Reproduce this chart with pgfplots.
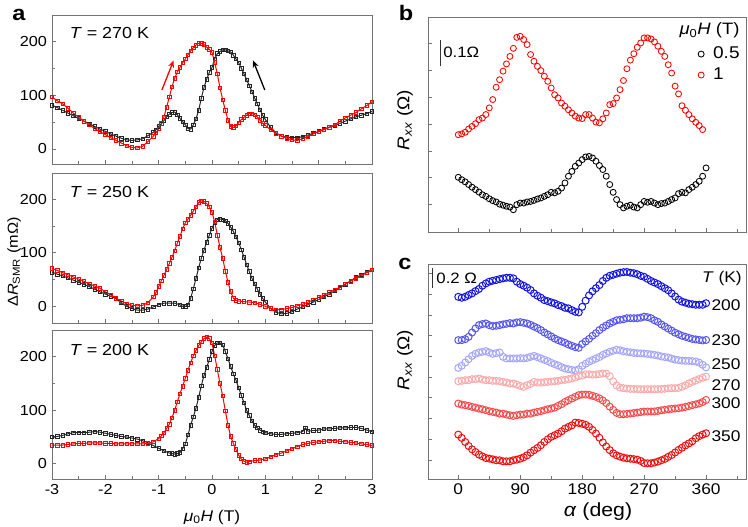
\documentclass[border=0pt]{standalone}
\usepackage{fontspec}
\setmainfont{Liberation Sans}[FakeStretch=1.12]
\usepackage{pgfplots}
\pgfplotsset{compat=1.18}
\usetikzlibrary{arrows.meta}
\definecolor{axgray}{RGB}{115,115,115}
\definecolor{cA}{RGB}{20,20,225}
\definecolor{cB}{RGB}{85,85,240}
\definecolor{cC}{RGB}{165,165,250}
\definecolor{cD}{RGB}{250,170,170}
\definecolor{cE}{RGB}{245,75,75}
\definecolor{cF}{RGB}{240,15,15}
\pgfplotsset{
  panel/.style={scale only axis, anchor=south west,
    axis line style={axgray, line width=0.9pt},
    tick style={axgray, line width=0.8pt}, tick pos=left,
    major tick length=3.5pt, minor tick length=2.5pt,
    /pgf/number format/assume math mode=true,
    tick label style={font=\fontsize{14.5}{16}\selectfont}},
  pa/.style={panel, width=320pt, height=149pt, xmin=-3, xmax=3,
    xtick={-3,-2,-1,0,1,2,3}, minor xtick={-2.5,-1.5,-0.5,0.5,1.5,2.5},
    ytick={0,100,200}, minor ytick={50,150}},
  sqk/.style={black!85, line width=1.0pt, mark=square, mark size=1.8pt, mark options={line width=0.6pt, solid}},
  sqr/.style={red, line width=1.0pt, mark=square, mark size=1.8pt, mark options={line width=0.6pt, solid}},
  pc/.style={panel, width=318pt, height=215pt, xmin=-44, xmax=418,
    xtick={0,90,180,270,360}, minor xtick={45,135,225,315,405}},
}
\begin{document}
\fontsize{14.5}{16}\selectfont
\begin{tikzpicture}
\path[use as bounding box] (0,0) rectangle (748pt,527pt);
% ---------------- panel a, 270 K
\begin{axis}[pa, at={(52pt,363pt)}, ymin=-28, ymax=250, xticklabels={}]
\addplot[sqk] coordinates {(-3.0,82) (-2.9,77) (-2.8,72) (-2.7,67) (-2.6,62) (-2.5,57) (-2.4,52) (-2.3,47) (-2.2,42) (-2.1,37) (-2.0,33) (-1.9,28) (-1.8,24) (-1.7,20) (-1.6,17) (-1.5,16) (-1.4,17) (-1.3,19) (-1.2,25) (-1.1,31) (-1.05,36) (-1.0,42) (-0.95,47) (-0.9,53) (-0.85,60) (-0.8,65) (-0.75,68) (-0.7,69) (-0.65,64) (-0.6,57) (-0.55,51) (-0.5,45) (-0.45,38) (-0.4,37) (-0.35,45) (-0.3,56) (-0.25,72) (-0.2,95) (-0.15,115) (-0.1,130) (-0.05,143) (0.0,152) (0.05,168) (0.1,178) (0.15,182) (0.2,185) (0.25,185) (0.3,183) (0.35,181) (0.4,175) (0.45,168) (0.5,161) (0.55,151) (0.6,140) (0.65,129) (0.7,118) (0.75,107) (0.8,95) (0.85,84) (0.9,73) (0.95,63) (1.0,55) (1.1,40) (1.2,30) (1.3,24) (1.4,22) (1.5,21) (1.6,21) (1.7,23) (1.8,26) (1.9,29) (2.0,33) (2.1,37) (2.2,41) (2.3,44) (2.4,48) (2.5,52) (2.6,56) (2.7,60) (2.8,63) (2.9,66) (3.0,70)};
\addplot[sqr] coordinates {(-3.0,97) (-2.9,90) (-2.8,84) (-2.7,76) (-2.6,67) (-2.5,59) (-2.4,52) (-2.3,45) (-2.2,38) (-2.1,32) (-2.0,27) (-1.9,21) (-1.8,16) (-1.7,11) (-1.6,6) (-1.5,3) (-1.4,2) (-1.3,5) (-1.2,14) (-1.1,24) (-1.05,30) (-1.0,38) (-0.95,48) (-0.9,60) (-0.85,78) (-0.8,97) (-0.75,116) (-0.7,132) (-0.65,144) (-0.6,152) (-0.55,161) (-0.5,168) (-0.45,176) (-0.4,183) (-0.35,189) (-0.3,194) (-0.25,197) (-0.2,197) (-0.15,195) (-0.1,190) (-0.05,186) (0.0,180) (0.05,162) (0.1,140) (0.15,114) (0.2,92) (0.25,72) (0.3,54) (0.35,42) (0.4,40) (0.45,43) (0.5,49) (0.55,55) (0.6,59) (0.65,63) (0.7,66) (0.75,66) (0.8,64) (0.85,60) (0.9,54) (0.95,48) (1.0,44) (1.1,36) (1.2,29) (1.3,24) (1.4,20) (1.5,17) (1.6,16) (1.7,19) (1.8,23) (1.9,28) (2.0,32) (2.1,36) (2.2,40) (2.3,45) (2.4,52) (2.5,58) (2.6,63) (2.7,68) (2.8,75) (2.9,81) (3.0,88)};
\draw[red, line width=1.3pt, -{Stealth[length=7pt,width=6pt]}] (axis cs:-0.94,110) -- (axis cs:-0.72,165);
\draw[black, line width=1.3pt, -{Stealth[length=7pt,width=6pt]}] (axis cs:0.99,110) -- (axis cs:0.77,165);
\node[anchor=west, font=\fontsize{16}{18}\selectfont] at (rel axis cs:0.04,0.876) {\textit{T} = 270 K};
\end{axis}
% ---------------- panel a, 250 K
\begin{axis}[pa, at={(52pt,204pt)}, height=150pt, ymin=-31, ymax=249, xticklabels={}]
\addplot[sqk] coordinates {(-3.0,64) (-2.9,60) (-2.8,57) (-2.7,53) (-2.6,49) (-2.5,45) (-2.4,41) (-2.3,37) (-2.2,32) (-2.1,27) (-2.0,23) (-1.9,19) (-1.8,14) (-1.7,7) (-1.6,0) (-1.5,-4) (-1.4,-7) (-1.3,-7) (-1.2,-5) (-1.1,-1) (-1.0,3) (-0.9,6) (-0.8,6) (-0.7,6) (-0.6,3) (-0.55,0) (-0.5,0) (-0.45,3) (-0.4,15) (-0.35,33) (-0.3,52) (-0.25,72) (-0.2,90) (-0.15,105) (-0.1,120) (-0.05,133) (0.0,146) (0.05,157) (0.1,162) (0.15,163) (0.2,162) (0.25,160) (0.3,155) (0.35,148) (0.4,140) (0.45,130) (0.5,119) (0.55,106) (0.6,92) (0.65,78) (0.7,65) (0.75,52) (0.8,42) (0.85,32) (0.9,23) (0.95,15) (1.0,8) (1.1,-4) (1.2,-11) (1.3,-14) (1.4,-13) (1.5,-10) (1.6,-5) (1.7,-1) (1.8,3) (1.9,8) (2.0,13) (2.1,18) (2.2,23) (2.3,29) (2.4,35) (2.5,41) (2.6,48) (2.7,54) (2.8,59) (2.9,64) (3.0,68)};
\addplot[sqr] coordinates {(-3.0,71) (-2.9,67) (-2.8,63) (-2.7,59) (-2.6,55) (-2.5,51) (-2.4,47) (-2.3,42) (-2.2,38) (-2.1,34) (-2.0,27) (-1.9,22) (-1.8,15) (-1.7,10) (-1.6,5) (-1.5,2) (-1.4,1) (-1.3,2) (-1.2,7) (-1.1,18) (-1.05,26) (-1.0,37) (-0.95,48) (-0.9,58) (-0.85,69) (-0.8,80) (-0.75,92) (-0.7,104) (-0.65,118) (-0.6,131) (-0.55,145) (-0.5,156) (-0.45,163) (-0.4,170) (-0.35,178) (-0.3,186) (-0.25,194) (-0.2,197) (-0.15,196) (-0.1,192) (-0.05,186) (0.0,176) (0.05,158) (0.1,133) (0.15,110) (0.2,90) (0.25,66) (0.3,45) (0.35,28) (0.4,15) (0.45,11) (0.5,10) (0.6,9) (0.7,8) (0.8,7) (0.9,4) (1.0,0) (1.1,-4) (1.2,-6) (1.3,-6) (1.4,-4) (1.5,-2) (1.6,1) (1.7,4) (1.8,8) (1.9,12) (2.0,17) (2.1,21) (2.2,26) (2.3,31) (2.4,36) (2.5,42) (2.6,47) (2.7,52) (2.8,57) (2.9,63) (3.0,68)};
\node[anchor=west, font=\fontsize{16}{18}\selectfont] at (rel axis cs:0.04,0.875) {\textit{T} = 250 K};
\end{axis}
% ---------------- panel a, 200 K
\begin{axis}[pa, at={(52pt,48pt)}, ymin=-28.5, ymax=250]
\addplot[sqk] coordinates {(-3.0,50) (-2.9,51) (-2.8,53) (-2.7,56) (-2.6,58) (-2.5,58) (-2.4,58) (-2.3,59) (-2.2,60) (-2.1,59) (-2.0,57) (-1.9,55) (-1.8,53) (-1.7,51) (-1.6,50) (-1.5,48) (-1.4,46) (-1.3,43) (-1.2,39) (-1.1,34) (-1.0,29) (-0.9,24) (-0.8,20) (-0.75,19) (-0.7,18) (-0.65,19) (-0.6,21) (-0.55,28) (-0.5,37) (-0.45,54) (-0.4,72) (-0.35,88) (-0.3,104) (-0.25,124) (-0.2,146) (-0.15,165) (-0.1,180) (-0.05,195) (0.0,210) (0.05,221) (0.1,226) (0.15,226) (0.2,222) (0.25,210) (0.3,196) (0.35,182) (0.4,168) (0.45,156) (0.5,142) (0.55,128) (0.6,114) (0.65,100) (0.7,90) (0.75,80) (0.8,72) (0.85,67) (0.9,63) (0.95,60) (1.0,58) (1.1,56) (1.2,55) (1.3,55) (1.4,56) (1.5,57) (1.6,58) (1.7,60) (1.75,67) (1.8,61) (1.9,62) (2.0,63) (2.1,65) (2.2,65) (2.3,66) (2.4,67) (2.5,67) (2.6,68) (2.7,68) (2.8,66) (2.9,63) (3.0,60)};
\addplot[sqr] coordinates {(-3.0,35) (-2.9,35) (-2.8,35) (-2.7,36) (-2.6,37) (-2.5,38) (-2.4,38) (-2.3,39) (-2.2,39) (-2.1,39) (-2.0,38) (-1.9,38) (-1.8,37) (-1.7,37) (-1.6,37) (-1.5,37) (-1.4,37) (-1.3,37) (-1.2,38) (-1.1,41) (-1.0,47) (-0.95,52) (-0.9,58) (-0.85,66) (-0.8,74) (-0.75,86) (-0.7,100) (-0.65,116) (-0.6,131) (-0.55,145) (-0.5,160) (-0.45,175) (-0.4,189) (-0.35,202) (-0.3,212) (-0.25,221) (-0.2,228) (-0.15,234) (-0.1,237) (-0.05,234) (0.0,226) (0.05,202) (0.1,176) (0.15,150) (0.2,127) (0.25,99) (0.3,72) (0.35,51) (0.4,38) (0.45,27) (0.5,16) (0.55,9) (0.6,5) (0.65,3) (0.7,4) (0.8,6) (0.9,7) (1.0,9) (1.1,13) (1.2,17) (1.3,20) (1.4,24) (1.5,28) (1.6,32) (1.7,36) (1.8,38) (1.9,40) (2.0,41) (2.1,42) (2.2,43) (2.3,43) (2.4,42) (2.5,41) (2.6,40) (2.7,39) (2.8,37) (2.9,36) (3.0,34)};
\node[anchor=west, font=\fontsize{16}{18}\selectfont] at (rel axis cs:0.04,0.866) {\textit{T} = 200 K};
\end{axis}
% ---------------- panel b
\begin{axis}[pc, at={(428pt,295pt)}, ymin=-0.102, ymax=0.700,
  xticklabels={}, ytick={0,0.1,0.2,0.3,0.4,0.5,0.6}, yticklabels={},
  legend style={draw=none, fill=none, at={(0.99,0.875)}, anchor=north east,
    font=\fontsize{17}{19}\selectfont, row sep=3pt, column sep=7pt, inner sep=1pt},
  legend cell align=left]
\addplot[only marks, mark=o, mark size=3pt, black, mark options={line width=0.85pt}] coordinates {(0,0.102) (5,0.093) (10,0.085) (15,0.075) (20,0.065) (25,0.056) (30,0.047) (35,0.037) (40,0.031) (45,0.022) (50,0.015) (55,0.010) (60,0.002) (65,-0.002) (70,-0.006) (75,-0.009) (80,-0.019) (85,0.000) (90,0.006) (95,0.006) (100,0.010) (105,0.012) (110,0.016) (115,0.021) (120,0.025) (125,0.031) (130,0.037) (135,0.046) (140,0.044) (145,0.050) (150,0.062) (155,0.081) (160,0.106) (165,0.124) (170,0.143) (175,0.155) (180,0.168) (185,0.178) (190,0.180) (195,0.174) (200,0.162) (205,0.146) (210,0.131) (215,0.106) (220,0.075) (225,0.046) (230,0.019) (235,0.000) (240,-0.012) (245,-0.006) (250,-0.002) (255,-0.009) (260,-0.012) (265,0.000) (270,0.012) (275,0.009) (280,0.012) (285,0.006) (290,0.000) (295,0.004) (300,0.006) (305,0.012) (310,0.019) (315,0.025) (320,0.041) (325,0.046) (330,0.044) (335,0.056) (340,0.065) (345,0.075) (350,0.087) (355,0.106) (360,0.137)};
\addlegendentry{0.5}
\addplot[only marks, mark=o, mark size=3pt, red, mark options={line width=0.85pt}] coordinates {(0,0.261) (5,0.264) (10,0.270) (15,0.282) (20,0.292) (25,0.302) (30,0.317) (35,0.323) (40,0.336) (45,0.361) (50,0.392) (55,0.438) (60,0.466) (65,0.498) (70,0.525) (75,0.553) (80,0.583) (85,0.624) (90,0.628) (95,0.616) (100,0.597) (105,0.560) (110,0.535) (115,0.516) (120,0.500) (125,0.479) (130,0.460) (135,0.435) (140,0.410) (145,0.398) (150,0.379) (155,0.367) (160,0.354) (165,0.342) (170,0.330) (175,0.323) (180,0.321) (185,0.336) (190,0.336) (195,0.323) (200,0.308) (205,0.305) (210,0.320) (215,0.342) (220,0.373) (225,0.377) (230,0.398) (235,0.429) (240,0.463) (245,0.507) (250,0.539) (255,0.563) (260,0.587) (265,0.603) (270,0.622) (275,0.622) (280,0.618) (285,0.607) (290,0.591) (295,0.572) (300,0.553) (305,0.522) (310,0.491) (315,0.442) (320,0.413) (325,0.369) (330,0.352) (335,0.336) (340,0.320) (345,0.307) (350,0.295) (355,0.280)};
\addlegendentry{1}
\draw[black!80, line width=0.8pt] (axis cs:-25.4,0.516) -- (axis cs:-25.4,0.616);
\node[anchor=west, inner sep=0pt, font=\fontsize{15}{17}\selectfont] at (axis cs:-22,0.567) {0.1Ω};
\node[anchor=north east, inner sep=0pt, font=\fontsize{16.5}{18}\selectfont] at (rel axis cs:0.98,0.975) {\textit{μ}\textsubscript{0}\textit{H} (T)};
\end{axis}
% ---------------- panel c
\begin{axis}[pc, at={(428pt,48pt)}, ymin=-0.184, ymax=1.894,
  tick label style={font=\fontsize{15.5}{17}\selectfont},
  ytick={0,0.2,0.4,0.6,0.8,1.0,1.2,1.4,1.6,1.8}, yticklabels={}]
\addplot[only marks, mark=o, mark size=3.5pt, cA, mark options={line width=1pt}] coordinates {(0,1.577) (5,1.568) (10,1.577) (15,1.594) (20,1.610) (25,1.632) (30,1.652) (35,1.684) (40,1.706) (45,1.723) (50,1.732) (55,1.739) (60,1.748) (65,1.755) (70,1.761) (75,1.761) (80,1.755) (85,1.723) (90,1.700) (95,1.684) (100,1.665) (105,1.642) (110,1.610) (115,1.587) (120,1.568) (125,1.545) (130,1.535) (135,1.523) (140,1.513) (145,1.497) (150,1.487) (155,1.471) (160,1.465) (165,1.448) (170,1.432) (175,1.426) (180,1.48) (185,1.54) (190,1.59) (195,1.63) (200,1.66) (205,1.69) (210,1.73) (215,1.76) (220,1.78) (225,1.79) (230,1.80) (235,1.81) (240,1.815) (245,1.817) (250,1.81) (255,1.805) (260,1.795) (265,1.78) (270,1.77) (275,1.75) (280,1.73) (285,1.715) (290,1.70) (295,1.68) (300,1.66) (305,1.64) (310,1.61) (315,1.58) (320,1.55) (325,1.53) (330,1.52) (335,1.51) (340,1.505) (345,1.50) (350,1.50) (355,1.50) (360,1.515)};
\addplot[only marks, mark=o, mark size=3.5pt, cB, mark options={line width=1pt}] coordinates {(0,1.158) (5,1.158) (10,1.168) (15,1.190) (20,1.232) (25,1.271) (30,1.303) (35,1.313) (40,1.319) (45,1.303) (50,1.294) (55,1.297) (60,1.303) (65,1.310) (70,1.316) (75,1.323) (80,1.319) (85,1.329) (90,1.332) (95,1.326) (100,1.319) (105,1.306) (110,1.290) (115,1.274) (120,1.255) (125,1.232) (130,1.213) (135,1.194) (140,1.174) (145,1.158) (150,1.145) (155,1.132) (160,1.116) (165,1.103) (170,1.090) (175,1.084) (180,1.12) (185,1.145) (190,1.17) (195,1.20) (200,1.225) (205,1.255) (210,1.28) (215,1.30) (220,1.32) (225,1.335) (230,1.35) (235,1.355) (240,1.36) (245,1.37) (250,1.37) (255,1.37) (260,1.37) (265,1.375) (270,1.385) (275,1.38) (280,1.37) (285,1.35) (290,1.335) (295,1.31) (300,1.29) (305,1.27) (310,1.25) (315,1.23) (320,1.215) (325,1.20) (330,1.19) (335,1.18) (340,1.17) (345,1.165) (350,1.16) (355,1.155) (360,1.16)};
\addplot[only marks, mark=o, mark size=3.5pt, cC, mark options={line width=1pt}] coordinates {(0,0.890) (5,0.910) (10,0.942) (15,0.974) (20,1.006) (25,1.026) (30,1.039) (35,1.045) (40,1.052) (45,1.039) (50,1.026) (55,1.032) (60,1.039) (65,0.997) (70,0.981) (75,0.981) (80,0.981) (85,0.981) (90,0.984) (95,0.981) (100,0.987) (105,0.997) (110,1.006) (115,0.994) (120,0.981) (125,0.968) (130,0.955) (135,0.939) (140,0.926) (145,0.913) (150,0.897) (155,0.884) (160,0.877) (165,0.871) (170,0.865) (175,0.877) (180,0.91) (185,0.93) (190,0.95) (195,0.965) (200,0.98) (205,0.995) (210,1.015) (215,1.03) (220,1.045) (225,1.055) (230,1.065) (235,1.06) (240,1.05) (245,1.045) (250,1.04) (255,1.035) (260,1.032) (265,1.03) (270,1.028) (275,1.025) (280,1.02) (285,1.015) (290,1.01) (295,1.0) (300,0.995) (305,0.99) (310,0.98) (315,0.97) (320,0.965) (325,0.96) (330,0.958) (335,0.958) (340,0.955) (345,0.952) (350,0.94) (355,0.92) (360,0.895)};
\addplot[only marks, mark=o, mark size=3.5pt, cD, mark options={line width=1pt}] coordinates {(0,0.761) (5,0.765) (10,0.771) (15,0.771) (20,0.781) (25,0.781) (30,0.787) (35,0.777) (40,0.771) (45,0.771) (50,0.765) (55,0.765) (60,0.761) (65,0.755) (70,0.748) (75,0.739) (80,0.739) (85,0.729) (90,0.716) (95,0.706) (100,0.723) (105,0.735) (110,0.755) (115,0.748) (120,0.748) (125,0.752) (130,0.755) (135,0.758) (140,0.761) (145,0.765) (150,0.771) (155,0.774) (160,0.781) (165,0.787) (170,0.797) (175,0.810) (180,0.815) (185,0.828) (190,0.828) (195,0.824) (200,0.826) (205,0.830) (210,0.836) (215,0.835) (220,0.81) (225,0.76) (230,0.72) (235,0.70) (240,0.694) (245,0.69) (250,0.687) (255,0.686) (260,0.685) (265,0.684) (270,0.684) (275,0.684) (280,0.684) (285,0.684) (290,0.684) (295,0.686) (300,0.688) (305,0.692) (310,0.694) (315,0.694) (320,0.696) (325,0.708) (330,0.722) (335,0.74) (340,0.755) (345,0.768) (350,0.782) (355,0.795) (360,0.806)};
\addplot[only marks, mark=o, mark size=3.5pt, cE, mark options={line width=1pt}] coordinates {(0,0.545) (5,0.535) (10,0.529) (15,0.523) (20,0.513) (25,0.506) (30,0.497) (35,0.490) (40,0.481) (45,0.471) (50,0.465) (55,0.458) (60,0.448) (65,0.448) (70,0.439) (75,0.432) (80,0.426) (85,0.432) (90,0.439) (95,0.439) (100,0.448) (105,0.448) (110,0.458) (115,0.465) (120,0.471) (125,0.481) (130,0.490) (135,0.497) (140,0.506) (145,0.523) (150,0.539) (155,0.561) (160,0.577) (165,0.594) (170,0.610) (175,0.626) (180,0.632) (185,0.632) (190,0.630) (195,0.62) (200,0.61) (205,0.595) (210,0.575) (215,0.55) (220,0.515) (225,0.484) (230,0.455) (235,0.442) (240,0.442) (245,0.445) (250,0.449) (255,0.453) (260,0.458) (265,0.463) (270,0.467) (275,0.468) (280,0.468) (285,0.469) (290,0.474) (295,0.480) (300,0.485) (305,0.490) (310,0.494) (315,0.497) (320,0.50) (325,0.506) (330,0.513) (335,0.52) (340,0.53) (345,0.537) (350,0.546) (355,0.56) (360,0.58)};
\addplot[only marks, mark=o, mark size=3.5pt, cF, mark options={line width=1pt}] coordinates {(0,0.245) (5,0.213) (10,0.174) (15,0.135) (20,0.103) (25,0.077) (30,0.052) (35,0.035) (40,0.019) (45,0.013) (50,0.006) (55,-0.003) (60,-0.003) (65,-0.013) (70,-0.013) (75,-0.013) (80,-0.003) (85,0.003) (90,0.013) (95,0.026) (100,0.045) (105,0.071) (110,0.094) (115,0.116) (120,0.142) (125,0.174) (130,0.200) (135,0.223) (140,0.239) (145,0.255) (150,0.277) (155,0.303) (160,0.319) (165,0.335) (170,0.361) (175,0.358) (180,0.35) (185,0.34) (190,0.32) (195,0.29) (200,0.255) (205,0.215) (210,0.17) (215,0.13) (220,0.095) (225,0.065) (230,0.045) (235,0.032) (240,0.022) (245,0.016) (250,0.012) (255,0.008) (260,0.003) (265,-0.01) (270,-0.03) (275,-0.032) (280,-0.032) (285,-0.025) (290,-0.016) (295,-0.003) (300,0.01) (305,0.03) (310,0.048) (315,0.072) (320,0.097) (325,0.118) (330,0.14) (335,0.16) (340,0.18) (345,0.21) (350,0.23) (355,0.245) (360,0.258)};
\draw[black!80, line width=0.8pt] (axis cs:-37,1.66) -- (axis cs:-37,1.855);
\node[anchor=west, inner sep=0pt, font=\fontsize{15}{17}\selectfont] at (axis cs:-32,1.755) {0.2 Ω};
\begin{scope}[font=\fontsize{15.5}{17}\selectfont]
\node at (axis cs:383,1.758) {\textit{T} (K)};
\node at (axis cs:389,1.50) {200};
\node at (axis cs:389,1.161) {230};
\node at (axis cs:389,0.929) {250};
\node at (axis cs:389,0.726) {270};
\node at (axis cs:389,0.548) {300};
\node at (axis cs:389,0.226) {350};
\end{scope}
\end{axis}
% ---------------- labels
\node[font=\bfseries\fontsize{21}{23}\selectfont] at (19pt,512pt) {a};
\node[font=\bfseries\fontsize{21}{23}\selectfont] at (406pt,514pt) {b};
\node[font=\bfseries\fontsize{21}{23}\selectfont] at (405pt,263pt) {c};
\node[rotate=90, font=\fontsize{14.5}{16}\selectfont] at (14pt,265pt) {Δ\textit{R}\textsubscript{SMR} (mΩ)};
\node[font=\fontsize{15.5}{17}\selectfont] at (212pt,10pt) {\textit{μ}\textsubscript{0}\textit{H} (T)};
\node[rotate=90, font=\fontsize{17}{19}\selectfont] at (405pt,407pt) {\textit{R}\textsubscript{\textit{xx}} (Ω)};
\node[rotate=90, font=\fontsize{17}{19}\selectfont] at (405pt,167pt) {\textit{R}\textsubscript{\textit{xx}} (Ω)};
\node[font=\fontsize{19}{21}\selectfont] at (598pt,15pt) {\textit{α} (deg)};
\end{tikzpicture}
\end{document}
